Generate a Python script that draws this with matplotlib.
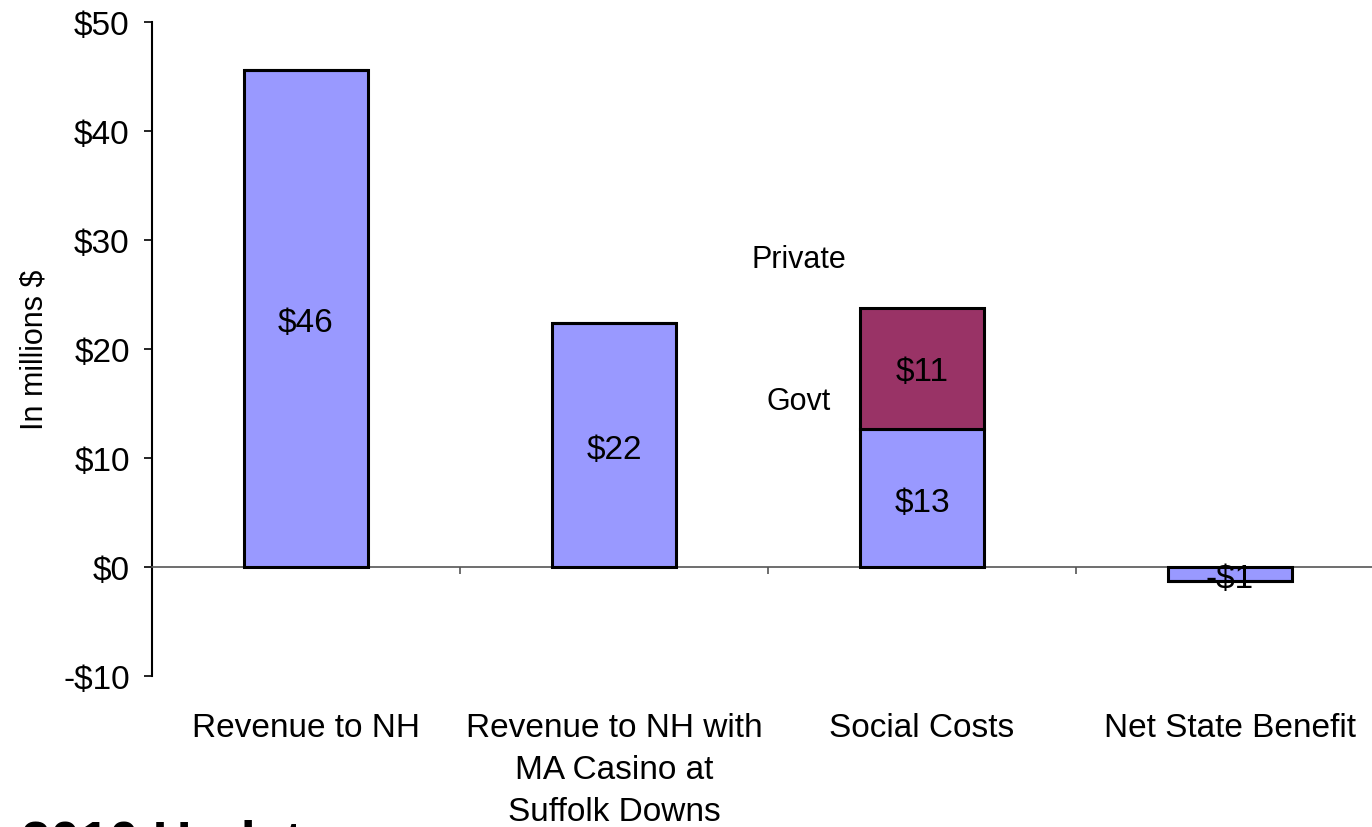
import matplotlib
matplotlib.use("Agg")
import matplotlib.pyplot as plt

plt.rcParams['font.family'] = ['Liberation Sans', 'DejaVu Sans']

# data
categories = ["Revenue to NH", "Revenue to NH with\nMA Casino at\nSuffolk Downs",
              "Social Costs", "Net State Benefit"]
base_values = [45.6, 22.4, 12.7, -1.3]
base_labels = ["$46", "$22", "$13", "-$1"]
private_values = [0, 0, 11.1, 0]
private_labels = ["", "", "$11", ""]
yticks = [-10, 0, 10, 20, 30, 40, 50]

fig = plt.figure(figsize=(13.72, 8.28), dpi=100)
ax = fig.add_axes([152 / 1372, 1 - 677 / 828, 1232 / 1372, 654 / 828])

x = range(len(categories))
ax.bar(x, base_values, width=0.4, color='#9999FF', edgecolor='black', linewidth=2.2, zorder=3)
ax.bar(x, private_values, width=0.4, bottom=base_values, color='#993366',
       edgecolor='black', linewidth=2.2, zorder=3)

# value labels in the middle of each segment (a touch below centre, as in the original)
for i in x:
    ax.text(i, base_values[i] / 2 - 0.4, base_labels[i], ha='center', va='center',
            fontsize=24, zorder=4)
    if private_values[i]:
        ax.text(i, base_values[i] + private_values[i] / 2 - 0.3, private_labels[i],
                ha='center', va='center', fontsize=24, color='black', zorder=4)

# legend-like annotations
ax.text(1.6, 28.3, "Private", ha='center', va='center', fontsize=22)
ax.text(1.6, 15.2, "Govt", ha='center', va='center', fontsize=22)

ax.set_xlim(-0.5, 3.5)
ax.set_ylim(-10, 50)
ax.set_yticks(yticks)
ax.set_yticklabels([f"${v}" if v >= 0 else f"-${-v}" for v in yticks], fontsize=24)
ax.tick_params(axis='y', direction='out', length=6, width=1.2, pad=10)

# category separators on the zero line
ax.set_xticks([0.5, 1.5, 2.5])
ax.set_xticklabels([])
ax.tick_params(axis='x', direction='out', length=5, width=1.2, color='#555555')

ax.spines['top'].set_visible(False)
ax.spines['right'].set_visible(False)
ax.spines['bottom'].set_position(('data', 0))
ax.spines['bottom'].set_color('#555555')
ax.spines['bottom'].set_linewidth(1.2)
ax.spines['left'].set_linewidth(1.5)

for i, cat in enumerate(categories):
    ax.text(i, -13.3, cat, ha='center', va='top', fontsize=24,
            linespacing=1.45, clip_on=False)

ax.set_ylabel("In millions $", fontsize=22, labelpad=10)

# title cut off at the bottom of the slide
fig.text(0.015, -0.02, "2010 Update", fontsize=38, fontweight='bold',
         ha='left', va='center')

fig.savefig("out.png", dpi=100)
